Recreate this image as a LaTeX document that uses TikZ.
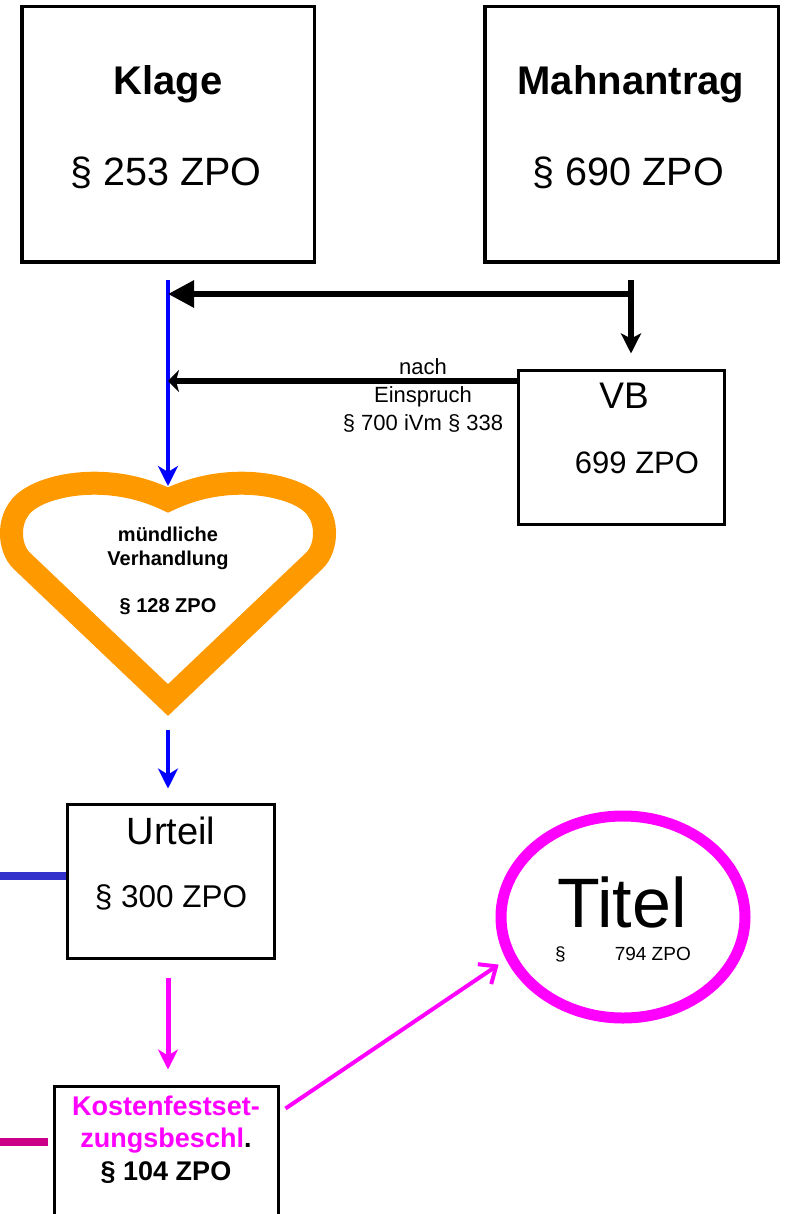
\documentclass[tikz,border=0pt]{standalone}
\usepackage{fontspec}
\setmainfont{Liberation Sans}
\usetikzlibrary{arrows.meta,shapes.geometric}
\definecolor{ordblue}{RGB}{0,0,255}
\definecolor{linkblue}{RGB}{51,51,204}
\definecolor{heartorange}{RGB}{255,153,0}
\definecolor{titlemagenta}{RGB}{255,0,255}
\definecolor{costred}{RGB}{204,0,136}

\begin{document}
\begin{tikzpicture}[x=1pt, y=-1pt,
    box/.style={draw, line width=3.5pt, inner sep=0pt},
    lbl/.style={inner sep=0pt, anchor=base},
    bigbold/.style={lbl, font=\fontsize{40}{48}\selectfont\bfseries},
    para/.style={lbl, font=\fontsize{39.5}{46}\selectfont},
    flowtip/.style={-{Stealth[length=20pt, width=20pt, inset=6pt]}}
]
\useasboundingbox (0,0) rectangle (784,1214);
\clip (0,0) rectangle (784,1214);

% top boxes
\node[box, minimum width=292.5pt, minimum height=255.5pt] (klage) at (168,134.5) {};
\node[box, minimum width=293.5pt, minimum height=255.5pt] (mahn) at (631.5,134.5) {};
\node[bigbold] (klagetitle) at (168,95) {Klage};
\node[para] (klagepara) at (166,186) {§ 253 ZPO};
\node[bigbold] (mahntitle) at (631,95) {Mahnantrag};
\node[para] (mahnpara) at (628.5,186) {§ 690 ZPO};

% Vollstreckungsbescheid
\node[box, line width=3pt, minimum width=206pt, minimum height=154pt] (vb) at (621.5,447.5) {};
\node[lbl, font=\fontsize{37}{44}\selectfont] (vbtitle) at (624,408) {VB};
\node[lbl, font=\fontsize{31}{37}\selectfont] (vbpara) at (637,473) {699 ZPO};

% connectors below the top boxes
\coordinate (flow) at (168,280);
\coordinate (mahnfoot) at (631,280);
\coordinate (mahnjoint) at (634,294);
\coordinate (heartnotch) at (168,486);
\coordinate (einspruch) at ([yshift=-12pt]vb.north west);
\draw[draw=ordblue, line width=4.5pt, flowtip] (flow) -- (heartnotch);
\draw[line width=6pt, -{Triangle[length=26pt, width=26pt]}] (mahnjoint) -- (flow |- mahnjoint);
\draw[line width=6pt, -{Stealth[length=20pt, width=20pt, inset=5pt]}, shorten >=15.5pt] (mahnfoot) -- (mahnfoot |- vb.north);
\draw[line width=6pt, -{Stealth[length=11pt, width=22pt, inset=3pt]}] (einspruch) -- (flow |- einspruch);
\node[lbl, align=center, font=\fontsize{22}{28}\selectfont] (einspruchlabel) at (423,430) {nach\\Einspruch\\§ 700 iVm § 338};

% heart
\draw[draw=heartorange, line width=23pt, line join=miter] (168,700) -- (22,561)
    .. controls (8,548) and (6,515) .. (28,500)
    .. controls (50,484) and (110,472) .. (168,500)
    .. controls (226,472) and (286,484) .. (308,500)
    .. controls (330,515) and (328,548) .. (314,561) -- cycle;
\node[lbl, align=center, font=\fontsize{20}{23.5}\selectfont\bfseries] (hearttext) at (168,612) {mündliche\\Verhandlung\\[23.5pt]§ 128 ZPO};

% Urteil
\coordinate (hearttip) at (168,730);
\node[box, line width=3pt, minimum width=207pt, minimum height=154pt] (urteil) at (171,881.5) {};
\node[lbl, font=\fontsize{38}{46}\selectfont] (urteiltitle) at (171,844) {Urteil};
\node[lbl, font=\fontsize{31.5}{38}\selectfont] (urteilpara) at (171,907) {§ 300 ZPO};
\draw[draw=ordblue, line width=4.5pt, flowtip, shorten >=14.5pt] (hearttip) -- (hearttip |- urteil.north);
\coordinate (urteilstub) at (0,876);
\draw[draw=linkblue, line width=8pt] (urteil.west |- urteilstub) -- (urteilstub);

% Kostenfestsetzungsbeschluss
\node[box, line width=3pt, minimum width=224pt, minimum height=170pt] (kosten) at (166.5,1171.5) {};
\node[lbl, align=center, font=\fontsize{27}{32.5}\selectfont\bfseries] (kostentext) at (166,1180) {\textcolor{titlemagenta}{Kostenfestset-}\\\textcolor{titlemagenta}{zungsbeschl}.\\§ 104 ZPO};
\draw[draw=titlemagenta, line width=5pt, flowtip, shorten <=17.5pt, shorten >=15.5pt] (hearttip |- urteil.south) -- (hearttip |- kosten.north);
\coordinate (kostenstub) at (0,1142);
\draw[draw=costred, line width=8pt, shorten <=5pt] (kosten.west |- kostenstub) -- (kostenstub);

% Titel
\node[draw=titlemagenta, line width=11pt, ellipse, minimum width=244pt, minimum height=202pt, inner sep=0pt] (titel) at (623,917) {};
\node[lbl, font=\fontsize{70}{84}\selectfont] (titeltext) at (622,927) {Titel};
\node[lbl, anchor=base west, font=\fontsize{19}{23}\selectfont] (titelpara) at (555,960) {§\hspace{49pt}794 ZPO};
\draw[draw=titlemagenta, line width=4pt, -{Straight Barb[length=14pt, width=24pt]}, shorten >=9pt] ([xshift=5.5pt, yshift=-23.5pt]kosten.north east) -- (titel.200);
\end{tikzpicture}
\end{document}
